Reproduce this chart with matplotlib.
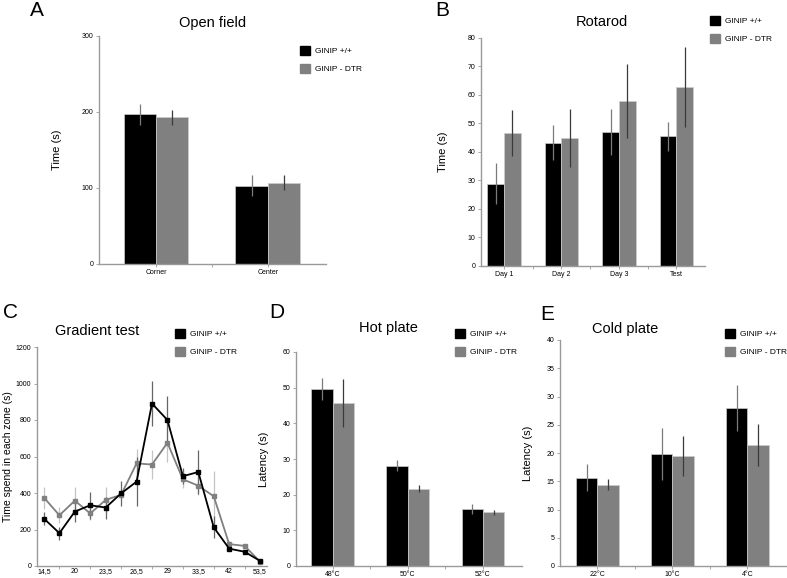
import matplotlib
matplotlib.use('Agg')
import matplotlib.pyplot as plt
import numpy as np
from matplotlib.patches import Patch

plt.rcParams['font.family'] = ['Liberation Sans', 'DejaVu Sans']

W, H = 787, 578
BLACK = '#000000'
GREY = '#808080'
SPINE = '#9a9a9a'

groups = ['GINIP +/+', 'GINIP - DTR']

# A - open field
of_cats = ['Corner', 'Center']
of_wt = [197, 103]
of_wt_err = [14, 14]
of_dtr = [193, 107]
of_dtr_err = [10, 10]

# B - rotarod
rr_cats = ['Day 1', 'Day 2', 'Day 3', 'Test']
rr_wt = [28.9, 43.3, 47.0, 45.5]
rr_wt_err = [7.1, 6.2, 8.0, 5.0]
rr_dtr = [46.7, 44.9, 57.9, 62.9]
rr_dtr_err = [8.0, 10.3, 13.0, 14.0]

# C - gradient test
gt_labels = ['14,5', '20', '23,5', '26,5', '29', '33,5', '42', '53,5']
gt_wt = [260, 180, 298, 333, 320, 398, 462, 890, 800, 492, 515, 212, 95, 78, 28]
gt_wt_err = [35, 35, 55, 75, 60, 70, 135, 125, 130, 45, 120, 60, 12, 10, 6]
gt_dtr = [375, 278, 358, 288, 362, 390, 562, 556, 675, 475, 440, 382, 120, 110, 24]
gt_dtr_err = [60, 45, 75, 35, 70, 15, 80, 80, 105, 50, 50, 140, 15, 10, 5]

# D - hot plate
hp_cats = ['48°C', '50°C', '52°C']
hp_wt = [49.7, 28.1, 16.0]
hp_wt_err = [3.1, 1.6, 1.3]
hp_dtr = [45.7, 21.7, 15.1]
hp_dtr_err = [6.6, 1.0, 0.7]

# E - cold plate
cp_cats = ['22°C', '10°C', '4°C']
cp_wt = [15.6, 19.8, 28.0]
cp_wt_err = [2.4, 4.6, 4.1]
cp_dtr = [14.4, 19.5, 21.4]
cp_dtr_err = [1.0, 3.5, 3.7]


def px_axes(fig, x0, y0, x1, y1):
    """axes from pixel box (top-left origin)"""
    return fig.add_axes([x0 / W, 1 - y1 / H, (x1 - x0) / W, (y1 - y0) / H])


def style(ax):
    for s in ['top', 'right']:
        ax.spines[s].set_visible(False)
    for s in ['left', 'bottom']:
        ax.spines[s].set_color(SPINE)
        ax.spines[s].set_linewidth(1.0)
    ax.tick_params(axis='both', labelsize=5, length=2, width=0.6, color=SPINE, pad=2)
    ax.tick_params(axis='x', which='both', pad=1.5)


def legend_at(fig, x, y):
    handles = [Patch(facecolor=BLACK, edgecolor=BLACK), Patch(facecolor=GREY, edgecolor=GREY)]
    fig.legend(handles, groups, loc='upper left', bbox_to_anchor=(x / W, 1 - y / H),
               frameon=False, fontsize=6.0, handlelength=1.2, handleheight=1.2,
               handletextpad=0.6, labelspacing=1.1, borderpad=0, borderaxespad=0)


def bars(ax, cats, wt, wt_err, dtr, dtr_err, width=0.29):
    x = np.arange(len(cats))
    ax.bar(x - width / 2, wt, width, color=BLACK, edgecolor='#cccccc', linewidth=0.5,
           yerr=wt_err, error_kw=dict(ecolor='#7a7a7a', elinewidth=0.9, capsize=0))
    ax.bar(x + width / 2, dtr, width, color=GREY, edgecolor='#cccccc', linewidth=0.5,
           yerr=dtr_err, error_kw=dict(ecolor='#3a3a3a', elinewidth=0.9, capsize=0))
    ax.set_xticks(x)
    ax.set_xticklabels(cats)
    ax.set_xticks(np.arange(len(cats) - 1) + 0.5, minor=True)
    ax.tick_params(axis='x', which='major', length=0)
    ax.tick_params(axis='x', which='minor', length=2, color=SPINE)


fig = plt.figure(figsize=(W / 100, H / 100), dpi=100)

# A
axA = px_axes(fig, 99, 36, 326, 264)
bars(axA, of_cats, of_wt, of_wt_err, of_dtr, of_dtr_err)
axA.set_xlim(-0.51, 1.52)
axA.set_ylim(0, 300)
axA.set_yticks([0, 100, 200, 300])
axA.set_ylabel('Time (s)', fontsize=8, labelpad=14)
style(axA)
fig.text(213 / W, 1 - 23 / H, 'Open field', fontsize=10.5, ha='center', va='center')
fig.text(37 / W, 1 - 11 / H, 'A', fontsize=15, ha='center', va='center')
legend_at(fig, 300, 46)

# B
axB = px_axes(fig, 481, 38, 705, 266)
bars(axB, rr_cats, rr_wt, rr_wt_err, rr_dtr, rr_dtr_err)
axB.set_xlim(-0.4, 3.5)
axB.set_ylim(0, 80)
axB.set_yticks(range(0, 81, 10))
axB.set_ylabel('Time (s)', fontsize=8, labelpad=14)
style(axB)
fig.text(602 / W, 1 - 22 / H, 'Rotarod', fontsize=10.5, ha='center', va='center')
fig.text(442 / W, 1 - 11 / H, 'B', fontsize=15, ha='center', va='center')
legend_at(fig, 710, 16)

# C
axC = px_axes(fig, 37, 347, 267, 566)
xs = np.arange(len(gt_wt))
axC.errorbar(xs, gt_dtr, yerr=gt_dtr_err, color=GREY, lw=1.3, marker='s', ms=2.2,
             ecolor='#c4c4c4', elinewidth=0.9, capsize=0)
axC.errorbar(xs, gt_wt, yerr=gt_wt_err, color=BLACK, lw=1.3, marker='s', ms=2.2,
             ecolor='#666666', elinewidth=0.9, capsize=0)
axC.set_xlim(-0.45, 14.45)
axC.set_ylim(0, 1200)
axC.set_yticks(range(0, 1201, 200))
axC.set_xticks(np.arange(0, 15, 2))
axC.set_xticklabels(gt_labels)
axC.set_xticks(np.arange(1, 15, 2), minor=True)
axC.set_ylabel('Time spend in each zone (s)', fontsize=7.5, labelpad=2)
style(axC)
axC.tick_params(axis='x', which='major', length=0)
axC.tick_params(axis='x', which='minor', length=2, color=SPINE)
fig.text(97 / W, 1 - 331 / H, 'Gradient test', fontsize=10.5, ha='center', va='center')
fig.text(11 / W, 1 - 313 / H, 'C', fontsize=15, ha='center', va='center')
legend_at(fig, 175, 329)

# D
axD = px_axes(fig, 296, 352, 522, 566)
bars(axD, hp_cats, hp_wt, hp_wt_err, hp_dtr, hp_dtr_err, width=0.285)
axD.set_xlim(-0.49, 2.52)
axD.set_ylim(0, 60)
axD.set_yticks(range(0, 61, 10))
axD.set_ylabel('Latency (s)', fontsize=8, labelpad=10)
style(axD)
fig.text(388 / W, 1 - 328 / H, 'Hot plate', fontsize=10.5, ha='center', va='center')
fig.text(277 / W, 1 - 313 / H, 'D', fontsize=15, ha='center', va='center')
legend_at(fig, 455, 329)

# E
axE = px_axes(fig, 560, 340, 787, 566)
bars(axE, cp_cats, cp_wt, cp_wt_err, cp_dtr, cp_dtr_err, width=0.285)
axE.set_xlim(-0.5, 2.53)
axE.set_ylim(0, 40)
axE.set_yticks(range(0, 41, 5))
axE.set_ylabel('Latency (s)', fontsize=8, labelpad=10)
style(axE)
fig.text(625 / W, 1 - 329 / H, 'Cold plate', fontsize=10.5, ha='center', va='center')
fig.text(547 / W, 1 - 315 / H, 'E', fontsize=15, ha='center', va='center')
legend_at(fig, 725, 329)

plt.savefig('out.png', dpi=100)
plt.close()
